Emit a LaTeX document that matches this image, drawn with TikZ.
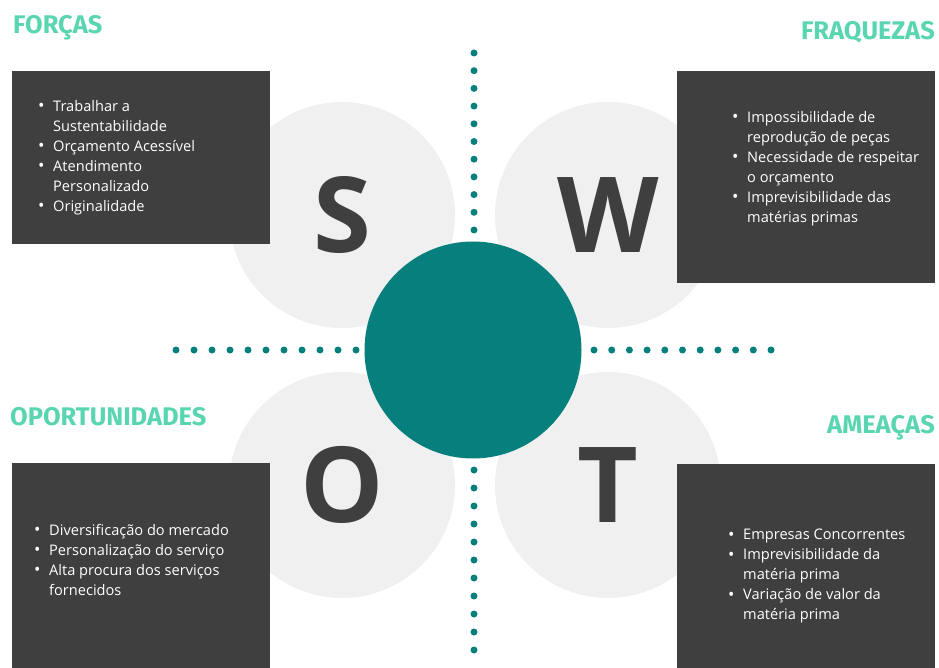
\documentclass[tikz,border=0pt]{standalone}
\usepackage{fontspec}
\setmainfont{Open Sans}
\newfontfamily\headfont{Fira Sans}
\usetikzlibrary{positioning}

\definecolor{swotteal}{HTML}{077F7C}
\definecolor{mint}{HTML}{5AD5B2}
\definecolor{boxgrey}{HTML}{3F3F3F}
\definecolor{circgrey}{HTML}{F0F0F0}
\definecolor{lettergrey}{HTML}{3F3F3F}

\newcommand{\bl}{\makebox[15pt][l]{\raisebox{-0.4pt}{\fontsize{17}{20}\selectfont\textbullet}}}
\newcommand{\ind}{\hspace*{15pt}}

\tikzset{
  quad/.style={circle, fill=circgrey, minimum size=226pt, inner sep=0pt,
    text=lettergrey, font=\fontsize{105}{105}\selectfont\bfseries},
  panel/.style={fill=boxgrey, inner sep=0pt, minimum width=258pt},
  heading/.style={inner sep=0pt, text=mint,
    font=\headfont\bfseries\fontsize{25.5}{25}\selectfont},
  items/.style={inner sep=0pt, anchor=north west, text=white, align=left,
    font=\fontsize{14.6}{20}\selectfont},
  tick/.style={circle, fill=swotteal, inner sep=0pt, minimum size=7pt}
}

\begin{document}
\begin{tikzpicture}[x=1pt, y=-1pt]
  \useasboundingbox (0,0) rectangle (939,668);

  % the four letter discs
  \node[quad] (S) at (342,215) {S};
  \node[quad] (W) at (608,215) {W};
  \node[quad] (O) at (342,485) {O};
  \node[quad] (T) at (608,485) {T};

  % dark panels
  \node[panel, anchor=north west, minimum height=173pt] (forcas) at (12,71) {};
  \node[panel, anchor=north east, minimum height=212pt] (fraq) at (935,71) {};
  \node[panel, anchor=north west, minimum height=205pt] (oport) at (12,463) {};
  \node[panel, anchor=north east, minimum height=204pt] (ameacas) at (935,464) {};

  % headings
  \node[heading, anchor=north west] (hF) at (13,15) {FORÇAS};
  \node[heading, anchor=north east] (hW) at (935,21) {FRAQUEZAS};
  \node[heading, anchor=north west] (hO) at (10,407) {OPORTUNIDADES};
  \node[heading, anchor=north east] (hT) at (935,415) {AMEAÇAS};

  % lists
  \node[items] (lF) at (38,100) {\bl Trabalhar a\\ \ind Sustentabilidade\\
    \bl Orçamento Acessível\\ \bl Atendimento\\ \ind Personalizado\\
    \bl Originalidade};
  \node[items] (lW) at (732,111) {\bl Impossibilidade de\\
    \ind reprodução de peças\\ \bl Necessidade de respeitar\\
    \ind o orçamento\\ \bl Imprevisibilidade das\\ \ind matérias primas};
  \node[items] (lO) at (34,524) {\bl Diversificação do mercado\\
    \bl Personalização do serviço\\ \bl Alta procura dos serviços\\
    \ind fornecidos};
  \node[items] (lT) at (728,529) {\bl Empresas Concorrentes\\
    \bl Imprevisibilidade da\\ \ind matéria prima\\
    \bl Variação de valor da\\ \ind matéria prima};

  % dotted axes
  \foreach \i in {0,...,10} {
    \node[tick] (up\i) at (474,{53+17.7*\i}) {};
    \node[tick] (dn\i) at (474,{470+18*\i}) {};
    \node[tick] (lt\i) at ({176+18*\i},350) {};
    \node[tick] (rt\i) at ({594+17.7*\i},350) {};
  }

  % centre disc
  \node[circle, fill=swotteal, minimum size=217pt, inner sep=0pt] (core) at (473,350) {};
\end{tikzpicture}
\end{document}
